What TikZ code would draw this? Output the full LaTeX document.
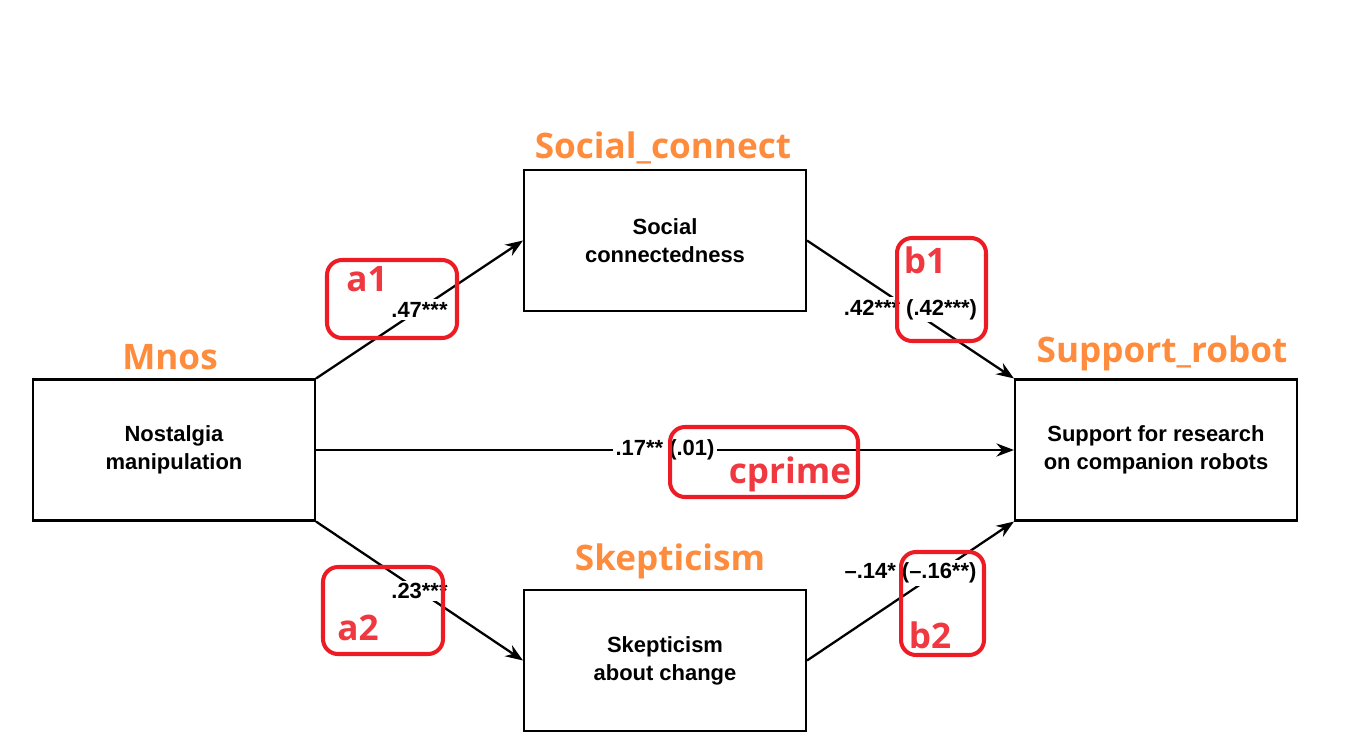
\documentclass[tikz,border=0pt]{standalone}
\usepackage{fontspec}
\setmainfont{Liberation Sans}
\newfontfamily\tagfont{Open Sans}
\usepackage{tikz}
\usetikzlibrary{shapes,arrows.meta}
\definecolor{tagorange}{RGB}{255,140,60}
\definecolor{tagred}{RGB}{237,28,36}
\definecolor{tagredtext}{RGB}{240,56,64}
\tikzstyle{block} = [draw, line width=1.2pt, rectangle, fill=white, minimum height=2.82cm, minimum width=5.64cm, align=center, font=\bfseries\fontsize{12.5}{15.9}\selectfont]
\tikzstyle{coef} = [fill=white, inner sep=1.5pt, font=\bfseries\fontsize{12.5}{15}\selectfont]
\tikzstyle{varname} = [text=tagorange, font=\tagfont\bfseries\fontsize{20}{24}\selectfont]
\tikzstyle{pathbox} = [draw=tagred, line width=2.3pt, rounded corners=0.3cm, rectangle, inner sep=0pt]
\tikzstyle{pathname} = [text=tagredtext, font=\tagfont\bfseries\fontsize{20}{24}\selectfont]

\begin{document}
\begin{tikzpicture}[x=0.02cm, y=-0.02cm, >={Stealth[length=10pt,width=7.5pt]}, line width=1.3pt]
    \useasboundingbox (0,0) rectangle (1362,747);

    % the four variables
    \node [block] (mnos) at (174,450) {Nostalgia\\manipulation};
    \node [block] (social) at (665,240.5) {Social\\connectedness};
    \node [block] (skept) at (665,660.5) {Skepticism\\about change};
    \node [block] (robot) at (1156,450) {Support for research\\on companion robots};

    \node [varname] (mnosname) at (170,357) {Mnos};
    \node [varname] (socialname) at (663,148) {Social\_connect};
    \node [varname] (skeptname) at (670,561) {Skepticism};
    \node [varname] (robotname) at (1162,353) {Support\_robot};

    % paths
    \draw [->] (mnos.north east) -- node[coef] {.47***} (social.west);
    \draw [->] (social.east) -- node[coef] {.42*** (.42***)} (robot.north west);
    \draw [->] (mnos.east) -- node[coef] {.17** (.01)} (robot.west);
    \draw [->] (mnos.south east) -- node[coef] {.23***} (skept.west);
    \draw [->] (skept.east) -- node[coef, yshift=0.36cm] {--.14* (--.16**)} (robot.south west);

    % path tags
    \node [pathbox, minimum width=2.6cm, minimum height=1.56cm] (a1box) at (392,299) {};
    \node [pathname] (a1) at (367,279) {a1};
    \node [pathbox, minimum width=1.78cm, minimum height=2.06cm] (b1box) at (941.5,289.5) {};
    \node [pathname] (b1) at (925,260) {b1};
    \node [pathbox, minimum width=3.76cm, minimum height=1.4cm] (cbox) at (764,462) {};
    \node [pathname] (cprime) at (790,474) {cprime};
    \node [pathbox, minimum width=2.4cm, minimum height=1.74cm] (a2box) at (383,610.5) {};
    \node [pathname] (a2) at (358,628) {a2};
    \node [pathbox, minimum width=1.66cm, minimum height=2.06cm] (b2box) at (942.5,603.5) {};
    \node [pathname] (b2) at (930,635) {b2};
\end{tikzpicture}
\end{document}
